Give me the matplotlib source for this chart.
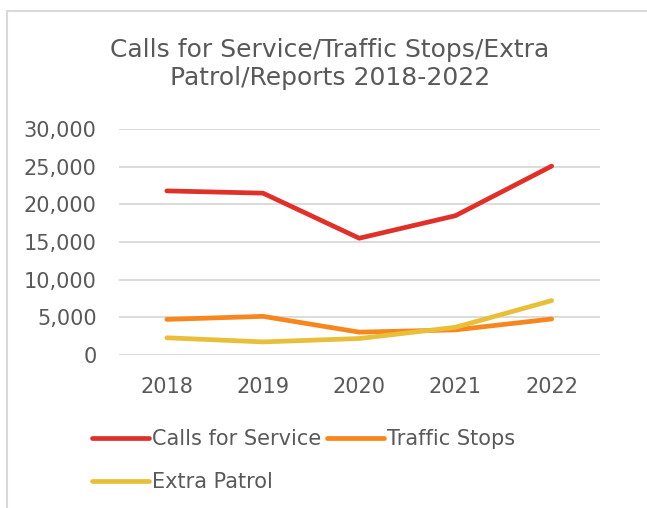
import matplotlib.pyplot as plt
from matplotlib.patches import Rectangle
from matplotlib.ticker import FuncFormatter

# ------------------- DATOS -------------------
years = ["2018", "2019", "2020", "2021", "2022"]
calls_for_service = [21800, 21500, 15500, 18500, 25100]
traffic_stops = [4700, 5100, 3000, 3300, 4750]
extra_patrol = [2250, 1700, 2150, 3650, 7200]

series_names = ["Calls for Service", "Traffic Stops", "Extra Patrol"]
series_colors = ["#E0302A", "#F7861D", "#E9BE38"]

TEXT = "#595959"
GRID = "#D9D9D9"

plt.rcParams['font.family'] = ['DejaVu Sans']

fig = plt.figure(figsize=(6.47, 5.08), dpi=100)
ax = fig.add_axes([0.1835, 0.3018, 0.927 - 0.1835, 0.7455 - 0.3018])

x = range(len(years))
lines = []
for vals, name, col in zip([calls_for_service, traffic_stops, extra_patrol],
                           series_names, series_colors):
    ln, = ax.plot(x, vals, color=col, lw=3.4, solid_capstyle='round',
                  solid_joinstyle='round', label=name)
    lines.append(ln)

ax.set_xlim(-0.5, len(years) - 0.5)
ax.set_ylim(0, 30000)
ax.set_yticks(range(0, 30001, 5000))
ax.yaxis.set_major_formatter(FuncFormatter(lambda v, p: f"{int(v):,}"))
ax.set_xticks(list(x))
ax.set_xticklabels(years)
ax.grid(axis='y', color=GRID, lw=1.3)
ax.set_axisbelow(True)
for s in ax.spines.values():
    s.set_visible(False)
ax.tick_params(length=0, colors=TEXT, labelsize=15)
ax.tick_params(axis='y', pad=16)
ax.tick_params(axis='x', pad=16)

fig.text(0.51, 0.874, "Calls for Service/Traffic Stops/Extra\nPatrol/Reports 2018-2022",
         ha='center', va='center', fontsize=18, color=TEXT, linespacing=1.2)

# orden por filas: Calls, Traffic / Extra
order = [0, 2, 1]
leg = fig.legend([lines[i] for i in order], [series_names[i] for i in order],
                 loc='upper left', bbox_to_anchor=(0.13, 0.172), ncol=2,
                 frameon=False, fontsize=15, handlelength=2.7, handletextpad=0.15,
                 columnspacing=0.3, labelspacing=1.1, borderaxespad=0)
for t in leg.get_texts():
    t.set_color(TEXT)

# marco gris del gráfico
fig.patches.append(Rectangle((7 / 647, -0.1), 1.2, 1 - 11 / 508 + 0.1,
                             transform=fig.transFigure, fill=False,
                             edgecolor=GRID, lw=1.5))

fig.savefig("out.png", dpi=100)
